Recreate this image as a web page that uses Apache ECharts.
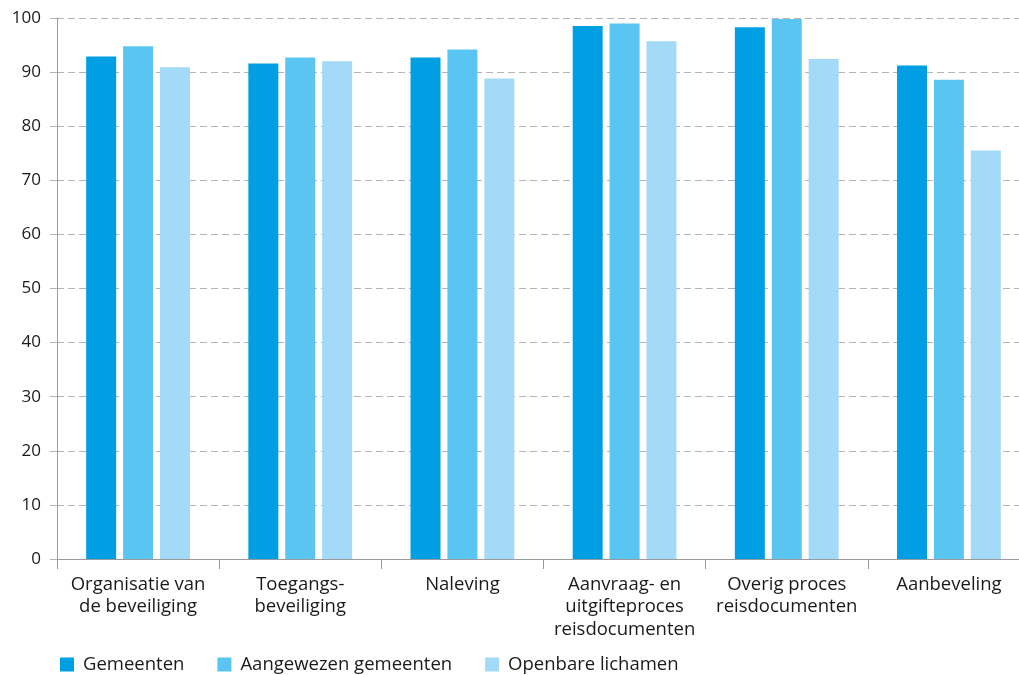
<!DOCTYPE html>
<html>
<head>
<meta charset="utf-8">
<script src="https://cdn.jsdelivr.net/npm/echarts@6/dist/echarts.min.js"></script>
<style>html,body{margin:0;padding:0;background:#fff;overflow:hidden}#c{width:1040px;height:675px}</style>
</head>
<body>
<div id="c"></div>
<script>
var categories = ["Organisatie van\nde beveiliging", "Toegangs-\nbeveiliging", "Naleving", "Aanvraag- en\nuitgifteproces\nreisdocumenten", "Overig proces\nreisdocumenten", "Aanbeveling"];
var seriesNames = ["Gemeenten", "Aangewezen gemeenten", "Openbare lichamen"];
var gemeenten = [92.9, 91.6, 92.7, 98.5, 98.3, 91.2];
var aangewezen = [94.8, 92.7, 94.2, 99.0, 99.8, 88.6];
var openbare = [90.9, 92.0, 88.8, 95.7, 92.4, 75.5];
var yTicks = [0, 10, 20, 30, 40, 50, 60, 70, 80, 90, 100];
var colors = ["#009fe3", "#5bc5f2", "#a3daf7"];

var chart = echarts.init(document.getElementById('c'));
var font = "'Open Sans', 'Noto Sans', sans-serif";
var data = [gemeenten, aangewezen, openbare];
chart.setOption({
  animation: false,
  textStyle: { fontFamily: font },
  color: colors,
  grid: { left: 57, width: 973, top: 18, bottom: 116, containLabel: false },
  legend: {
    left: 55, top: 650, itemWidth: 14, itemHeight: 14, itemGap: 33, icon: 'rect',
    textStyle: { fontSize: 18.5, color: '#1a1a1a', fontFamily: font, padding: [0, 0, 0, 4] },
    data: seriesNames
  },
  xAxis: {
    type: 'category',
    data: categories,
    axisLine: { lineStyle: { color: '#9a9a9a', width: 1 } },
    axisTick: { show: true, length: 10, lineStyle: { color: '#9a9a9a' } },
    axisLabel: { interval: 0, fontSize: 18.5, color: '#1a1a1a', lineHeight: 22.5, margin: 14, fontFamily: font }
  },
  yAxis: {
    type: 'value', min: yTicks[0], max: yTicks[yTicks.length - 1], interval: 10,
    axisLine: { show: true, lineStyle: { color: '#9a9a9a', width: 1 } },
    axisTick: { show: true, length: 9, lineStyle: { color: '#b5b5b5', type: [7, 4] } },
    axisLabel: { fontSize: 17, color: '#1a1a1a', margin: 16, fontFamily: font },
    splitLine: { show: true, lineStyle: { color: '#b5b5b5', type: [7, 4], width: 1 } }
  },
  series: seriesNames.map(function (n, i) {
    return { name: n, type: 'bar', data: data[i], barWidth: 30, barGap: '23%', itemStyle: { color: colors[i] } };
  })
});
</script>
</body>
</html>
